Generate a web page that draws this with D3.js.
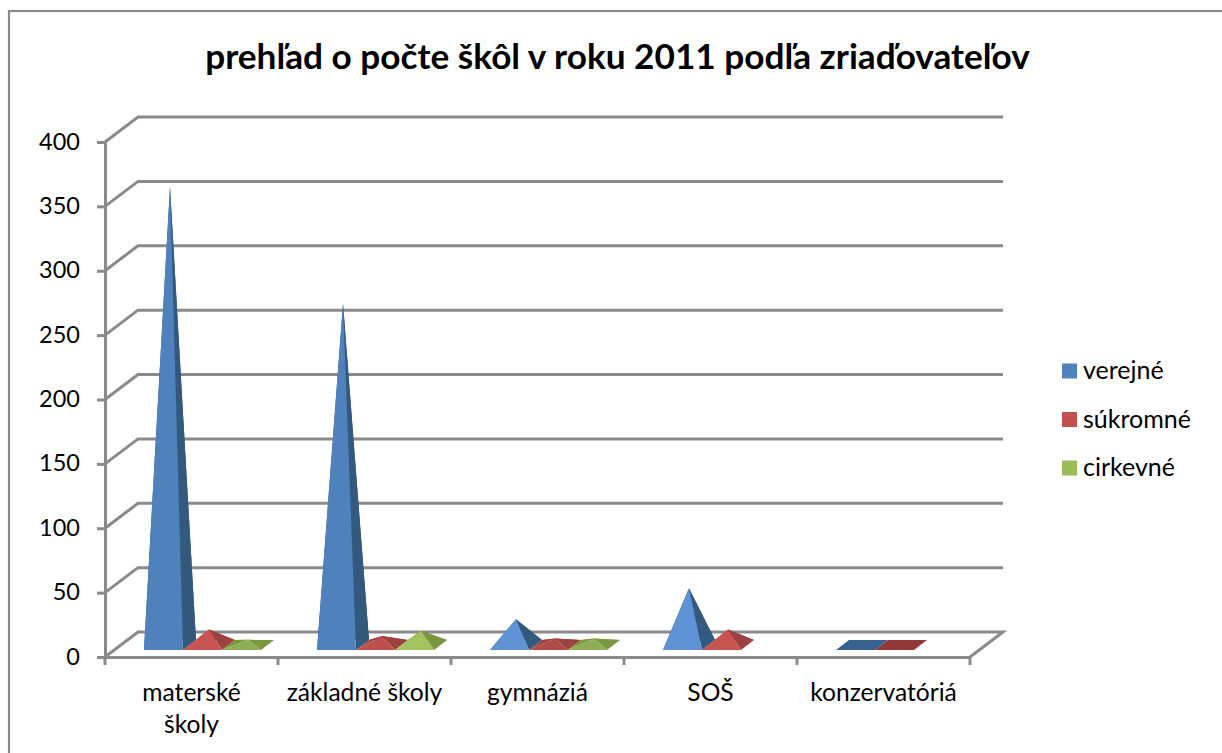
<!DOCTYPE html>
<html><head><meta charset="utf-8">
<script src="https://cdn.jsdelivr.net/npm/d3@7/dist/d3.min.js"></script>
<style>html,body{margin:0;padding:0;background:#fff}svg{display:block}text{font-family:Lato,"Open Sans",sans-serif;fill:#000}</style>
</head><body><svg id="c" width="1222" height="753"></svg>
<script>
const categories=["materské školy","základné školy","gymnáziá","SOŠ","konzervatóriá"];
const seriesNames=["verejné","súkromné","cirkevné"];
const verejne=[356,265,20,44,0];
const sukromne=[12,7,5,12,0];
const cirkevne=[4,11,5,null,null];
const seriesValues=[verejne,sukromne,cirkevne];
const yTicks=[0,50,100,150,200,250,300,350,400];
const titleText="prehľad o počte škôl v roku 2011 podľa zriaďovateľov";
const colors=["#4f81bd","#c0504d","#9bbb59"];
const sideColors=["#34597f","#9c4240","#7b973f"];
const flatColors=["#38618f","#923837","#7b973f"];

const svg=d3.select("#c");
const depth={dx:33,dy:-25}, baseD={dx:13,dy:-10}, grey="#8a8a8a", lw=3;
const y=d3.scaleLinear().domain([0,400]).range([657,142]);
const x=d3.scaleBand().domain(categories).range([105,970]);
const inner=d3.scaleBand().domain(d3.range(3)).range([0,117]);
const groupOffset=39;

svg.append("rect").attr("x",9).attr("y",11).attr("width",1300).attr("height",900).attr("fill","#fff").attr("stroke",grey).attr("stroke-width",2.2);

svg.append("text").attr("x",617.5).attr("y",69).attr("text-anchor","middle")
  .style("font-size","35.2px").style("font-weight",700).text(titleText);

const walls=svg.append("g").attr("fill","none").attr("stroke",grey).attr("stroke-width",lw);
yTicks.forEach(t=>{
  const py=y(t);
  if(t===0) return;
  walls.append("path").attr("d",d3.line()([[x.range()[0],py],[x.range()[0]+depth.dx,py+depth.dy],[x.range()[1]+depth.dx,py+depth.dy]]));
});
walls.append("path").attr("d",d3.line()([[105,y(0)],[105+depth.dx,y(0)+depth.dy],[970+depth.dx,y(0)+depth.dy],[970,y(0)]]));

const yAxis=svg.append("g").attr("transform","translate(105,0)")
  .call(d3.axisLeft(y).tickValues(yTicks).tickSize(8).tickSizeOuter(0).tickPadding(16));
const xAxis=svg.append("g").attr("transform",`translate(0,${y(0)})`)
  .call(d3.axisBottom(x).tickSize(0).tickPadding(0));
[yAxis,xAxis].forEach(a=>{a.selectAll("path,line").attr("stroke",grey).attr("stroke-width",lw);a.selectAll("text").attr("font-family",null);});
yAxis.selectAll("text").style("font-size","23.5px").attr("dy","0.3em").attr("dx","-1");
xAxis.selectAll(".tick text").style("font-size","24.6px").each(function(d,i){
  const t=d3.select(this).text("").attr("y",0).attr("dy",null);
  const lines=i===0?d.split(" "):[d];
  lines.forEach((l,j)=>t.append("tspan").attr("x",0).attr("y",44+j*32).text(l));
});
d3.range(6).forEach(i=>{
  const px=105+i*x.step();
  xAxis.append("line").attr("x1",px).attr("x2",px).attr("y1",0).attr("y2",8).attr("stroke",grey).attr("stroke-width",lw);
});

// face brightness follows the pyramid's slant: flat ones are darker, mid-height ones catch the light
function frontColor(si,v){
  const c=d3.color(colors[si]);
  if(v>=100) return c.formatHex();
  if(si===0) return "#5f93d6";
  if(v<=5) return c.darker(0.22).formatHex();
  if(v<=7) return c.darker(0.05).formatHex();
  return c.brighter(0.12).formatHex();
}
const pxPerUnit=(y(0)-y(1));
const marks=svg.append("g");
categories.forEach((c,ci)=>{
  seriesValues.forEach((vals,si)=>{
    const v=vals[ci];
    if(v===null) return;
    const fl=x(c)+groupOffset+inner(si), w=inner.bandwidth(), by=650;
    const fr=fl+w, bl=[fl+baseD.dx,by+baseD.dy], br=[fr+baseD.dx,by+baseD.dy];
    const apex=[fl+w/2+baseD.dx/2, by+baseD.dy/2-v*pxPerUnit];
    const g=marks.append("g");
    const poly=(pts,fill)=>g.append("path").attr("d",d3.line()(pts)+"Z").attr("fill",fill);
    if(v===0){ poly([[fl,by],[fr,by],br,bl],flatColors[si]); return; }
    poly([bl,br,apex],sideColors[si]);
    poly([[fl,by],bl,apex],sideColors[si]);
    poly([[fr,by],br,apex],sideColors[si]);
    poly([[fl,by],[fr,by],apex],frontColor(si,v));
  });
});

const lg=svg.append("g");
seriesNames.forEach((n,i)=>{
  const ly=371+i*48.5;
  lg.append("rect").attr("x",1062).attr("y",ly-7.5).attr("width",15).attr("height",15).attr("fill",colors[i]);
  lg.append("text").attr("x",1083).attr("y",ly+8).style("font-size","25px").text(n);
});
</script></body></html>
